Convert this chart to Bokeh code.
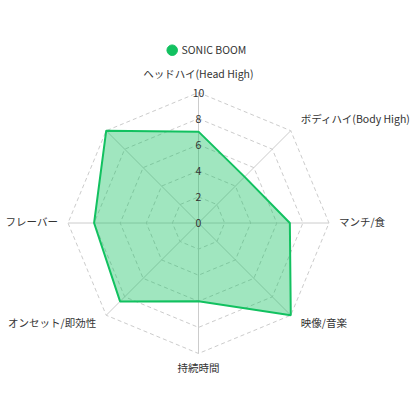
import numpy as np
from bokeh.plotting import figure
from bokeh.models import ColumnDataSource, Range1d
from bokeh.core.properties import value
from bokeh.embed import file_html
from bokeh.resources import INLINE

categories = ["ヘッドハイ(Head High)", "ボディハイ(Body High)", "マンチ/食", "映像/音楽",
              "持続時間", "オンセット/即効性", "フレーバー", ""]
series_name = "SONIC BOOM"
series_values = [7, 5, 7, 10, 6, 8.5, 8, 10]
ticks = [0, 2, 4, 6, 8, 10]
max_value = 10

FONT = "Noto Sans CJK JP"
FS = "10.5px"
GREEN = "#12c160"
GRID = "#cccccc"
TEXT = "#333333"

W = H = 416
cx, cy = 198.0, 222.5          # center in pixels within figure (from top-left)
scale = 13.05                  # pixels per unit
p = figure(width=W, height=H, output_backend="svg", toolbar_location=None,
           x_range=Range1d(-cx / scale, (W - cx) / scale),
           y_range=Range1d(-(H - cy) / scale, cy / scale),
           min_border=0)
p.axis.visible = False
p.grid.visible = False
p.outline_line_color = None
p.background_fill_color = None
p.border_fill_color = "white"


def px_to_data(px, py):
    return (px - cx) / scale, (cy - py) / scale


n = len(categories)
angles = np.deg2rad(90 - np.arange(n) * 360.0 / n)
ca, sa = np.cos(angles), np.sin(angles)

# rings (dashed)
for t in ticks[1:]:
    xs = list(t * ca) + [t * ca[0]]
    ys = list(t * sa) + [t * sa[0]]
    p.line(xs, ys, line_color=GRID, line_width=1, line_dash="4 3")

# spokes (solid)
p.multi_line(xs=[[0, max_value * c] for c in ca], ys=[[0, max_value * s] for s in sa],
             line_color=GRID, line_width=1)

# data polygon
vals = np.array(series_values, dtype=float)
src = ColumnDataSource(dict(x=list(vals * ca), y=list(vals * sa)))
p.patch("x", "y", source=src, fill_color=GREEN, fill_alpha=0.4,
        line_color=GREEN, line_width=2)

# tick labels along the top spoke
p.text(x=[0] * len(ticks), y=ticks, text=[str(t) for t in ticks],
       text_align="center", text_baseline="middle",
       text_font=value(FONT), text_font_size=FS, text_color=TEXT)

# category labels
lx, ly, al, xo, yo = [], [], [], [], []
for c, s in zip(ca, sa):
    lx.append(max_value * c)
    ly.append(max_value * s)
    if c > 0.01:
        al.append("left"); xo.append(10)
    elif c < -0.01:
        al.append("right"); xo.append(-10)
    else:
        al.append("center"); xo.append(0)
    if s > 0.9:
        yo.append(-19)
    elif s > 0.01:
        yo.append(-12.5)
    elif s < -0.9:
        yo.append(14)
    elif s < -0.01:
        yo.append(7.5)
    else:
        yo.append(-1.5)
lsrc = ColumnDataSource(dict(x=lx, y=ly, text=categories, align=al, xo=xo, yo=yo))
p.text(x="x", y="y", text="text", text_align="align", x_offset="xo", y_offset="yo",
       text_baseline="middle", source=lsrc,
       text_font=value(FONT), text_font_size=FS, text_color=TEXT)

# legend (drawn manually: circle swatch + label)
lgx, lgy = px_to_data(171.7, 49.7)
p.scatter(x=[lgx], y=[lgy], marker="circle", size=10.5,
          fill_color=GREEN, line_color=GREEN)
tx, ty = px_to_data(181.0, 49.2)
p.text(x=[tx], y=[ty], text=[series_name], text_align="left", text_baseline="middle",
       text_font=value(FONT), text_font_size=FS, text_color=TEXT)

open("out.html", "w").write(file_html(p, INLINE))
